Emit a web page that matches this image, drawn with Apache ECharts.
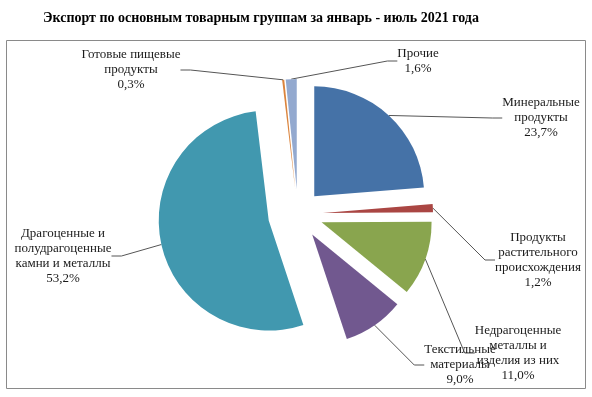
<!DOCTYPE html>
<html>
<head>
<meta charset="utf-8">
<script src="https://cdn.jsdelivr.net/npm/echarts@6/dist/echarts.min.js"></script>
<style>
    html, body { margin: 0; padding: 0; background: #fff; }
    #chart { width: 592px; height: 397px; }
</style>
</head>
<body>
<div id="chart"></div>
<script>
// категории и доли, %
const categories = [
    'Минеральные\nпродукты',
    'Продукты\nрастительного\nпроисхождения',
    'Недрагоценные\nметаллы и\nизделия из них',
    'Текстильные\nматериалы',
    'Драгоценные и\nполудрагоценные\nкамни и металлы',
    'Готовые пищевые\nпродукты',
    'Прочие'
];
const shares = [23.7, 1.2, 11.0, 9.0, 53.2, 0.3, 1.6];
const colors = ['#4572A7', '#AA4643', '#89A54E', '#71588F', '#4198AF', '#DB843D', '#93A9CF'];

// где стоят подписи (центр блока текста)
const labelPos = [
    [541, 118],
    [538, 260],
    [518, 353],
    [460, 365],
    [63, 256],
    [131, 70],
    [418, 61]
];
// насколько выдвинут каждый сектор
const explode = [24, 25, 25, 25, 30, 25, 25];

const cx = 298, cy = 214;
const total = shares.reduce(function (a, b) { return a + b; }, 0);

// каждый сектор — отдельная серия со своим смещённым центром
let series = [];
let acc = 0;
shares.forEach(function (v, k) {
    let mid = (acc + v / 2) / total * 2 * Math.PI;
    acc += v;
    series.push({
        type: 'pie',
        center: [cx + explode[k] * Math.sin(mid), cy - explode[k] * Math.cos(mid)],
        radius: 110,
        startAngle: 90,
        clockwise: true,
        silent: true,
        emphasis: { disabled: true },
        label: {
            fontFamily: 'Liberation Serif',
            fontSize: 13,
            lineHeight: 15,
            color: '#1a1a1a',
            align: 'center',
            formatter: function (p) {
                return p.name + '\n' + p.value.toFixed(1).replace('.', ',') + '%';
            }
        },
        labelLine: {
            length: 10,
            length2: 10,
            lineStyle: { color: '#555', width: 1 }
        },
        labelLayout: function (p) {
            let pos = labelPos[p.dataIndex];
            return {
                x: pos[0],
                y: pos[1],
                align: 'center',
                verticalAlign: 'middle'
            };
        },
        data: categories.map(function (name, i) {
            let on = i === k;
            return {
                name: name,
                value: shares[i],
                itemStyle: { color: on ? colors[i] : 'rgba(0,0,0,0)' },
                label: { show: on },
                labelLine: { show: on }
            };
        })
    });
});

let myChart = echarts.init(document.getElementById('chart'));

myChart.setOption({
    animation: false,
    title: {
        text: 'Экспорт по основным товарным группам за январь - июль 2021 года',
        left: 38,
        top: 6,
        textStyle: {
            fontFamily: 'Liberation Serif',
            fontWeight: 'bold',
            fontSize: 14,
            color: '#000'
        }
    },
    graphic: [{
        type: 'rect',
        shape: { x: 6.5, y: 40.5, width: 579, height: 348 },
        style: { fill: 'none', stroke: '#8a8a8a', lineWidth: 1 },
        silent: true
    }],
    series: series
});

window.addEventListener('resize', function () {
    myChart.resize();
});
</script>
</body>
</html>
